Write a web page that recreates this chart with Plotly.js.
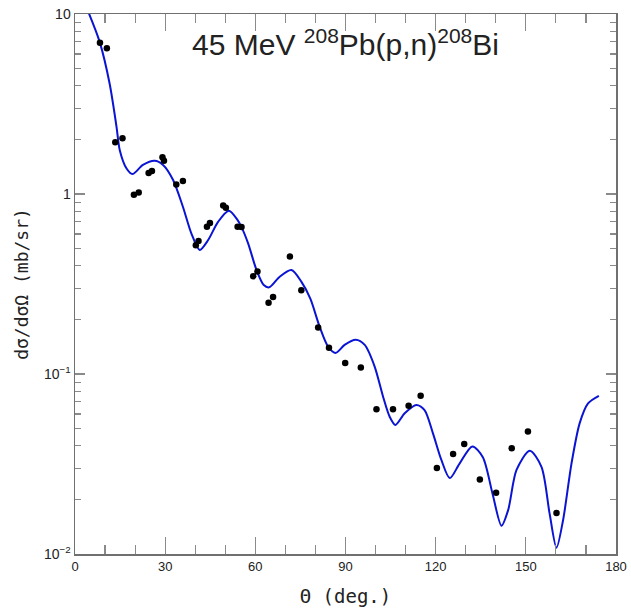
<!DOCTYPE html>
<html>
<head>
<meta charset="utf-8">
<script src="https://cdn.plot.ly/plotly-3.0.1.min.js"></script>
<style>html,body{margin:0;padding:0;background:#fff;}#chart{width:631px;height:616px;}</style>
</head>
<body>
<div id="chart"></div>
<script>
// Experimental data (angle in degrees, cross section in mb/sr)
const dataTheta = [8.3, 10.6, 13.4, 15.8, 19.6, 21.2, 24.5, 25.6, 29.1, 29.6,
  33.7, 35.9, 40.2, 41.1, 43.9, 44.9, 49.3, 50.2, 54.1, 55.4,
  59.3, 60.7, 64.4, 65.9, 71.5, 75.3, 80.9, 84.5, 89.9, 95.1,
  100.3, 105.8, 111.0, 115.0, 120.4, 125.8, 129.5, 134.7, 140.1, 145.3,
  150.7, 160.2];
const dataXS = [6.92, 6.45, 1.94, 2.04, 0.99, 1.02, 1.31, 1.34, 1.60, 1.53,
  1.13, 1.18, 0.519, 0.549, 0.658, 0.689, 0.863, 0.838, 0.658, 0.655,
  0.349, 0.371, 0.249, 0.268, 0.449, 0.292, 0.181, 0.140, 0.115, 0.1086,
  0.0637, 0.0637, 0.0667, 0.0756, 0.0300, 0.0359, 0.0409, 0.0259, 0.0219, 0.0387,
  0.0479, 0.0169];

// Calculated curve
const calcTheta = [4.4, 8.2, 11.5, 13.8, 14.9, 17.1, 19.1, 22.6, 26.5, 29.3,
  32.6, 35.9, 38.7, 41.5, 44.3, 47.6, 51.2, 54.0, 55.4, 57.6,
  60.4, 62.8, 64.6, 68.1, 72.0, 75.3, 78.3, 81.4, 84.2, 86.7,
  89.7, 93.4, 96.4, 99.7, 102.5, 104.7, 106.6, 109.7, 113.6, 116.3,
  119.1, 121.9, 124.7, 128.0, 132.2, 135.7, 138.9, 141.9, 144.1, 146.9,
  151.3, 155.2, 157.9, 160.2, 162.4, 165.2, 167.9, 170.7, 174.3];
const calcXS = [10.3, 7.0, 4.12, 2.37, 1.75, 1.39, 1.29, 1.45, 1.53, 1.45,
  1.20, 0.85, 0.605, 0.489, 0.555, 0.70, 0.807, 0.72, 0.655, 0.532,
  0.378, 0.312, 0.303, 0.347, 0.378, 0.326, 0.262, 0.183, 0.142, 0.131,
  0.145, 0.155, 0.145, 0.110, 0.0748, 0.0579, 0.0521, 0.0605, 0.0673, 0.063,
  0.0468, 0.0333, 0.0264, 0.0319, 0.0396, 0.0345, 0.0217, 0.01436, 0.0175, 0.0293,
  0.0375, 0.0305, 0.0168, 0.01084, 0.01545, 0.0319, 0.0532, 0.0687, 0.0757];

// Tick definitions
const xMajorTicks = [0, 30, 60, 90, 120, 150, 180];
const xMinorTicks = [10, 20, 40, 50, 70, 80, 100, 110, 130, 140, 160, 170];
const yMajorTicks = [0.01, 0.1, 1, 10];
const yMajorText = ['10<sup>\u22122</sup>', '10<sup>\u22121</sup>', '1', '10'];
const yMinorTicks = [0.02, 0.03, 0.04, 0.05, 0.06, 0.07, 0.08, 0.09,
  0.2, 0.3, 0.4, 0.5, 0.6, 0.7, 0.8, 0.9,
  2, 3, 4, 5, 6, 7, 8, 9];

const traces = [
  {
    x: calcTheta, y: calcXS, type: 'scatter', mode: 'lines',
    line: {color: '#0a14d2', width: 2, shape: 'spline', smoothing: 0.8}
  },
  {
    x: dataTheta, y: dataXS, type: 'scatter', mode: 'markers',
    marker: {color: '#000', size: 6.5}, cliponaxis: false
  }
];

const tkCol = '#8a8a8a';
const axCol = '#707070';

const layout = {
  width: 631, height: 616,
  margin: {l: 75, r: 15, t: 14, b: 62},
  paper_bgcolor: '#fff', plot_bgcolor: '#fff',
  showlegend: false,
  title: {
    text: '45 MeV <sup>208</sup>Pb(p,n)<sup>208</sup>Bi',
    x: 0.5, xref: 'paper', xanchor: 'center',
    y: 0.927, yref: 'container', yanchor: 'middle',
    font: {family: 'Liberation Sans', size: 30, color: '#222'}
  },
  xaxis: {
    range: [0, 180], tickmode: 'array', tickvals: xMajorTicks,
    ticks: 'inside', ticklen: 17, tickwidth: 1.2, tickcolor: tkCol,
    minor: {tickmode: 'array', tickvals: xMinorTicks, ticks: 'inside', ticklen: 9, tickwidth: 1.2, tickcolor: tkCol},
    showline: true, linecolor: axCol, linewidth: 1.5, mirror: 'allticks',
    showgrid: false, zeroline: false,
    tickfont: {family: 'Liberation Sans', size: 13, color: '#222'},
    title: {text: '\u0398 (deg.)', standoff: 16,
      font: {family: 'DejaVu Sans Mono', size: 19, color: '#222'}}
  },
  yaxis: {
    type: 'log', range: [-2, 1], tickmode: 'array', tickvals: yMajorTicks, ticktext: yMajorText,
    ticks: 'inside', ticklen: 10, tickwidth: 1.2, tickcolor: tkCol,
    minor: {tickmode: 'array', tickvals: yMinorTicks, ticks: 'inside', ticklen: 6, tickwidth: 1.2, tickcolor: tkCol},
    showline: true, linecolor: axCol, linewidth: 1.5, mirror: 'allticks',
    showgrid: false, zeroline: false,
    tickfont: {family: 'Liberation Sans', size: 14, color: '#222'},
    title: {text: 'd\u03c3/d\u03c3\u03a9 (mb/sr)', standoff: 10,
      font: {family: 'DejaVu Sans Mono', size: 18, color: '#222'}}
  }
};

Plotly.newPlot('chart', traces, layout, {displayModeBar: false, staticPlot: true});
</script>
</body>
</html>
